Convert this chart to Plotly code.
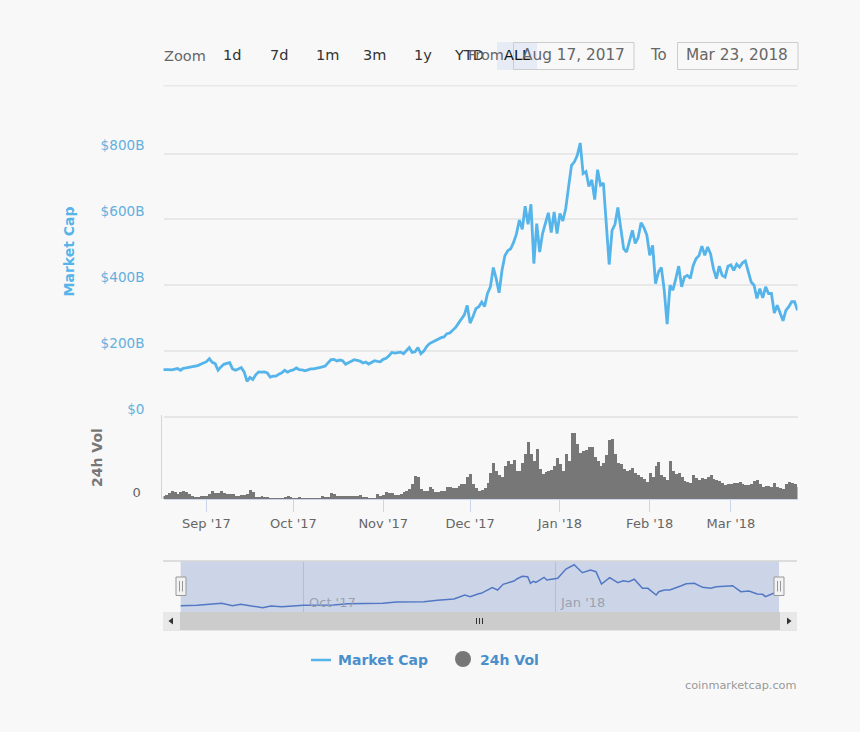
import pandas as pd
import plotly.graph_objects as go

W, H = 860, 732
START_DATE = "2017-08-17"
MARKET_CAP_B = [
    144,145,144,143,146,147,142,148,149,151,152,153,156,160,164,168,177,166,162,142,
    152,160,163,165,146,142,146,150,137,108,120,114,128,137,136,137,134,121,124,124,
    130,134,142,136,141,143,149,144,143,140,143,146,146,149,150,152,155,165,174,175,
    170,173,171,160,165,168,174,172,170,164,167,161,167,171,169,168,175,178,186,196,
    194,196,197,192,201,211,196,198,211,192,200,214,223,228,232,236,241,243,253,255,
    263,272,285,299,310,339,285,305,329,335,349,336,375,395,454,420,377,445,490,505,
    511,530,556,598,570,640,585,646,466,587,501,557,585,620,560,623,557,618,595,633,
    700,764,775,795,832,739,745,700,720,660,751,704,710,600,463,567,585,636,570,511,
    501,535,567,527,545,590,575,552,491,521,405,440,454,385,282,400,385,420,458,395,
    425,430,421,460,481,490,519,491,516,495,450,420,458,430,425,458,462,445,464,455,
    468,474,440,410,400,360,390,362,395,375,375,316,339,315,292,324,335,350,350,324,
]
VOLUME_B = [
    3,4,6,8,7,5,7,8,7,5,3,2,2,3,3,3,5,8,6,6,
    8,6,5,5,5,3,3,4,4,5,9,7,2,2,3,2,2,1,1,1,
    1,1,2,3,2,1,1,2,1,1,1,1,1,1,1,3,2,2,6,5,
    3,3,3,3,3,3,3,3,4,2,2,1,1,1,5,3,4,7,6,6,
    4,4,5,7,8,10,15,23,22,10,8,8,12,10,7,7,8,8,12,12,
    11,11,13,15,15,22,25,15,11,8,9,11,16,26,36,28,24,22,33,38,
    35,39,28,28,36,45,57,45,38,50,30,25,27,28,29,33,41,35,28,45,
    38,66,66,55,46,48,49,52,52,42,38,33,36,44,59,60,45,36,35,30,
    28,29,31,26,24,22,20,17,26,22,33,37,24,22,19,38,28,25,26,22,
    18,17,16,24,21,19,21,20,22,24,20,19,18,16,14,15,15,16,16,17,
    15,14,14,15,18,19,15,12,13,13,12,16,12,11,10,15,17,16,15,12,
]
# The navigator draws a grouped, smoother version of market cap: day offset and value.
NAV_DAY = [
    0,6,15,19,22,25,30,33,37,45,56,61,74,79,89,94,100,104,106,109,110,
    114,116,118,122,123,125,127,128,129,130,133,134,138,141,144,147,150,152,154,157,
    160,162,164,166,169,171,174,175,177,179,183,185,188,191,194,196,202,205,208,211,213,214,217,219,
]
NAV_VALUE = [
    144,150,184,144,167,144,110,139,127,150,155,178,184,206,211,234,257,324,296,346,353,
    448,409,505,561,595,640,634,522,556,539,623,578,606,764,836,701,747,718,510,617,
    532,566,549,590,437,437,324,380,409,409,476,515,522,454,437,465,481,380,392,341,336,296,353,357,
]
ZOOM_BUTTONS = ["1d", "7d", "1m", "3m", "1y", "YTD", "ALL"]
MAIN_TICKS = [0, 200, 400, 600, 800]
MAIN_LABELS = ["$0", "$200B", "$400B", "$600B", "$800B"]
FROM_DATE = "Aug 17, 2017"
TO_DATE = "Mar 23, 2018"

dates = pd.date_range(START_DATE, periods=len(MARKET_CAP_B), freq="D")
nav_dates = [dates[d] for d in NAV_DAY]

BG = "#f8f8f8"
BLUE = "#55b4ea"
GRAY = "#777777"
GRID = "#e8e8e8"
AXIS = "#ccd6eb"
FONT = "DejaVu Sans"

def px(x):
    return x / W

def py(y):
    return 1 - y / H

fig = go.Figure()
fig.add_trace(go.Scatter(x=dates, y=MARKET_CAP_B, mode="lines", name="Market Cap",
                         line=dict(color=BLUE, width=2.8), xaxis="x", yaxis="y"))
fig.add_trace(go.Bar(x=dates, y=VOLUME_B, name="24h Vol", marker=dict(color=GRAY, line_width=0),
                     xaxis="x2", yaxis="y2"))
fig.add_trace(go.Scatter(x=nav_dates, y=NAV_VALUE, mode="lines", name="Navigator",
                         line=dict(color="#4a73c4", width=1.5), xaxis="x3", yaxis="y3"))

x_range = ["2017-08-17 04:00", "2018-03-24 00:00"]
nav_range = ["2017-08-10 17:00", "2018-03-30 18:00"]
dom_x = [px(163.5), px(797.5)]

def rect(x0, y0, x1, y1, fill=None, line=None, lw=1, layer="below"):
    return dict(type="rect", xref="paper", yref="paper", x0=px(x0), x1=px(x1), y0=py(y0), y1=py(y1),
                fillcolor=fill or "rgba(0,0,0,0)", line=dict(color=line or "rgba(0,0,0,0)", width=lw if line else 0),
                layer=layer)

def seg(x0, y0, x1, y1, color, lw=1, layer="above"):
    return dict(type="line", xref="paper", yref="paper", x0=px(x0), x1=px(x1), y0=py(y0), y1=py(y1),
                line=dict(color=color, width=lw), layer=layer)

def tri(points, color):
    path = "M " + " L ".join(f"{px(a):.5f},{py(b):.5f}" for a, b in points) + " Z"
    return dict(type="path", xref="paper", yref="paper", path=path, fillcolor=color, line_width=0, layer="above")

shapes = [
    seg(163.5, 85.7, 797.5, 85.7, GRID, 1.5, layer="below"),
    rect(497, 42, 537, 70, fill="#e6ebf5"),
    rect(513.5, 42.5, 634, 69.5, line="#cccccc"),
    rect(677.5, 42.5, 798, 69.5, line="#cccccc"),
    dict(type="rect", xref="x3", yref="y3 domain", x0=dates[0], x1=dates[-1], y0=0, y1=1,
         fillcolor="rgba(102,133,194,0.3)", line_width=0, layer="above"),
    seg(163, 561, 797, 561, "#d4d4d4", 1.5),
    rect(163, 612, 797, 630, fill="#cccccc"),
    rect(163, 612, 180, 630, fill="#e8e8e8"),
    rect(780, 612, 797, 630, fill="#e8e8e8"),
    seg(163, 630.5, 797, 630.5, "#e4e4e4", 1),
    tri([(168.5, 621), (173, 617.5), (173, 624.5)], "#333333"),
    tri([(791.5, 621), (787, 617.5), (787, 624.5)], "#333333"),
    seg(476.5, 618, 476.5, 624, "#333333"),
    seg(479.5, 618, 479.5, 624, "#333333"),
    seg(482.5, 618, 482.5, 624, "#333333"),
    rect(176, 577, 186, 595.5, fill="#f2f2f2", line="#999999", layer="above"),
    rect(774, 577, 784, 595.5, fill="#f2f2f2", line="#999999", layer="above"),
    seg(179.5, 581, 179.5, 591.5, "#999999"),
    seg(182.5, 581, 182.5, 591.5, "#999999"),
    seg(777.5, 581, 777.5, 591.5, "#999999"),
    seg(780.5, 581, 780.5, 591.5, "#999999"),
    seg(311, 660, 331, 660, BLUE, 2.5),
    dict(type="circle", xref="paper", yref="paper", x0=px(455), x1=px(471), y0=py(651), y1=py(667),
         fillcolor=GRAY, line_width=0, layer="above"),
]

def label(text, x, y, size=14.5, color="#666666", anchor="center", bold=False, angle=0):
    return dict(text=f"<b>{text}</b>" if bold else text, x=px(x), y=py(y), xref="paper", yref="paper",
                xanchor=anchor, yanchor="middle", showarrow=False, textangle=angle,
                font=dict(family=FONT, size=size, color=color))

annotations = [label("Zoom", 161.5, 56, anchor="left")]
for name, cx in zip(ZOOM_BUTTONS, [232, 279, 327, 374, 423, 469, 517]):
    annotations.append(label(name, cx, 55, color="#111111" if name == "ALL" else "#333333"))
annotations += [
    label("From", 486, 55),
    label(FROM_DATE, 573, 55, size=15.3),
    label("To", 658, 54.5, size=15),
    label(TO_DATE, 737, 55, size=15.3),
    label("Market Cap", 68, 251.5, size=14, color=BLUE, bold=True, angle=-90),
    label("24h Vol", 97, 458, size=14, color=GRAY, bold=True, angle=-90),
    label("Market Cap", 336, 660, size=14, color="#4a8fcb", anchor="left", bold=True),
    label("24h Vol", 478, 660, size=14, color="#4a8fcb", anchor="left", bold=True),
    label("coinmarketcap.com", 799, 685, size=11.3, color="#999999", anchor="right"),
]
for tick, text in [("2017-10-01", "Oct '17"), ("2018-01-01", "Jan '18")]:
    annotations.append(dict(text=text, x=tick, y=py(602), xref="x3", yref="paper", xshift=3, xanchor="left",
                            yanchor="middle", showarrow=False, font=dict(family=FONT, size=13, color="#9aa1b0")))

fig.update_layout(
    width=W, height=H, margin=dict(l=0, r=0, t=0, b=0),
    paper_bgcolor=BG, plot_bgcolor=BG, showlegend=False, bargap=0,
    font=dict(family=FONT, color="#666666"),
    shapes=shapes, annotations=annotations,
    xaxis=dict(domain=dom_x, range=x_range, anchor="y", automargin=False, showgrid=False, showticklabels=False, ticks="", showline=False, zeroline=False),
    yaxis=dict(domain=[py(417), py(85.7)], range=[0, 1006], anchor="x", automargin=False,
               tickvals=MAIN_TICKS, ticktext=MAIN_LABELS,
               tickfont=dict(family=FONT, size=13.6, color="#66b0de"),
               ticklabelshift=-8, ticklabelstandoff=18, ticks="",
               showgrid=True, gridcolor=GRID, gridwidth=1.5, zeroline=False, showline=False),
    xaxis2=dict(domain=dom_x, range=x_range, anchor="y2", automargin=False, showgrid=False, dtick="M1", tick0="2017-09-01",
                tickformat="%b '%y", ticks="outside", ticklen=12, tickcolor=AXIS, tickwidth=1,
                showline=True, linecolor=AXIS, linewidth=1, zeroline=False,
                tickfont=dict(family=FONT, size=13, color="#666666")),
    yaxis2=dict(domain=[py(499), py(415)], range=[0, 84], anchor="free", position=px(160.5), automargin=False,
                tickvals=[0, 82], ticktext=["0", ""], tickfont=dict(family=FONT, size=13, color="#666666"),
                ticklabelshift=-7, ticklabelstandoff=17, ticks="",
                showline=True, linecolor=AXIS, linewidth=1,
                showgrid=True, gridcolor="#e6e6e6", gridwidth=1.6, zeroline=False),
    xaxis3=dict(domain=dom_x, range=nav_range, anchor="y3", automargin=False, showticklabels=False, ticks="",
                tickvals=["2017-10-01", "2018-01-01"], showgrid=True, gridcolor="#d8d8d8", gridwidth=1,
                zeroline=False, showline=False),
    yaxis3=dict(domain=[py(612), py(561)], range=[37, 899], anchor="x3", automargin=False, showticklabels=False, ticks="",
                showgrid=False, zeroline=False, showline=False),
)

fig.write_html("out.html", config={"displayModeBar": False},
               post_script="document.body.style.margin='0';document.body.style.background='#f8f8f8';document.documentElement.style.overflow='hidden';")
